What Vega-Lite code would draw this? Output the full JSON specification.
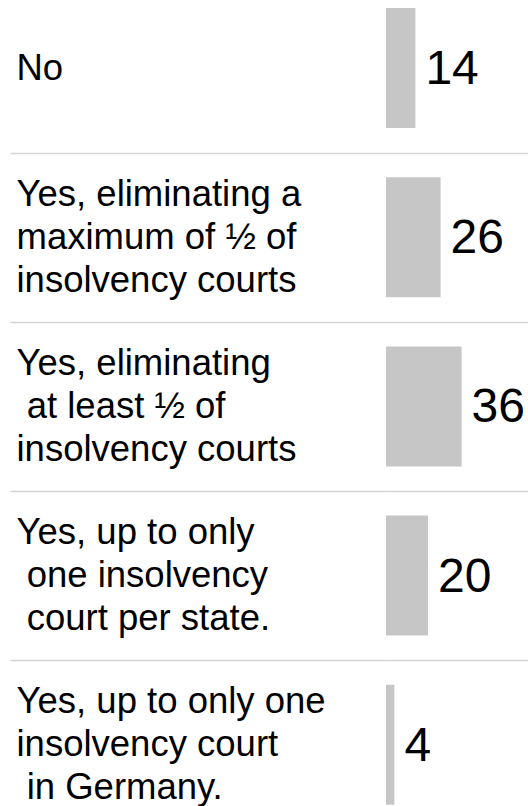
{
  "$schema": "https://vega.github.io/schema/vega-lite/v6.json",
  "autosize": {"type": "none"},
  "padding": {"left": 386, "top": 0, "right": 0, "bottom": 0},
  "width": 142,
  "height": 806,
  "background": "white",
  "config": {"view": {"stroke": null}, "font": "Liberation Sans"},
  "data": {
    "values": [
      {"answer": "No", "pct": 14},
      {"answer": "Yes, eliminating a\nmaximum of ½ of\ninsolvency courts", "pct": 26},
      {"answer": "Yes, eliminating\n\u200b at least ½ of\ninsolvency courts", "pct": 36},
      {"answer": "Yes, up to only\n\u200b one insolvency\n\u200b court per state.", "pct": 20},
      {"answer": "Yes, up to only one\ninsolvency court\n\u200b in Germany.", "pct": 4}
    ]
  },
  "encoding": {
    "y": {
      "field": "answer",
      "type": "nominal",
      "sort": null,
      "scale": {"type": "band", "paddingInner": 0, "paddingOuter": 0, "range": [-16.6, 829.4]},
      "axis": {
        "title": null,
        "orient": "left",
        "domain": false,
        "tickBand": "extent",
        "ticks": true,
        "tickSize": 376,
        "tickColor": "#d4d4d4",
        "tickWidth": 1.5,
        "grid": true,
        "gridColor": "#d4d4d4",
        "gridWidth": 1.5,
        "labelAlign": "left",
        "labelBaseline": "middle",
        "labelPadding": -6,
        "labelFontSize": 36.5,
        "labelFont": "Liberation Sans",
        "labelColor": "#000000",
        "labelLimit": 0,
        "labelLineHeight": 43,
        "labelOffset": {"expr": "-(length(split(datum.value, '\\n')) - 1) * 21.5"},
        "labelExpr": "split(datum.label, '\\n')"
      }
    }
  },
  "layer": [
    {
      "mark": {"type": "bar", "color": "#c6c6c6", "height": {"band": 0.709}},
      "encoding": {
        "x": {"field": "pct", "type": "quantitative", "scale": {"domain": [0, 67.62], "nice": false, "zero": true}, "axis": null}
      }
    },
    {
      "mark": {"type": "text", "align": "left", "baseline": "middle", "dx": 10, "dy": 2, "fontSize": 48, "font": "Liberation Sans", "color": "#000000"},
      "encoding": {
        "x": {"field": "pct", "type": "quantitative"},
        "text": {"field": "pct", "type": "quantitative"}
      }
    }
  ]
}
